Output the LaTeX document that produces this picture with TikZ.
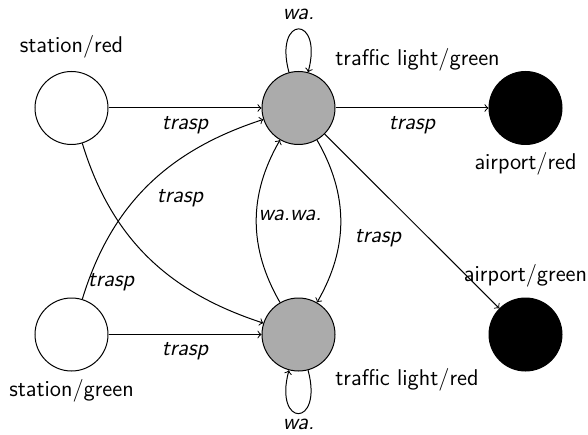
\documentclass[tikz,border=0pt]{standalone}
\begin{document}
\begin{tikzpicture}[x=0.5pt,y=0.5pt,
  font=\sffamily\fontsize{11.4}{13}\selectfont,
  state/.style={circle,draw,line width=0.5pt,minimum size=36.5pt,inner sep=0pt},
  tlstate/.style={state,fill=black!33},
  apstate/.style={state,fill=black},
  edge/.style={->,line width=0.5pt},
  elab/.style={font=\sffamily\itshape\fontsize{11.4}{13}\selectfont,inner sep=1pt}]
\useasboundingbox (0,0) rectangle (588,434);
% states
\node[state]   (sr)  at (71.5,326)  {};
\node[tlstate] (tlg) at (298.5,326) {};
\node[apstate] (ar)  at (525.5,326) {};
\node[state]   (sg)  at (71.5,99.5) {};
\node[tlstate] (tlr) at (298.5,99.5) {};
\node[apstate] (ag)  at (525.5,99.5) {};
% state labels
\node (srl) at (71.5,387) {station/red};
\node[anchor=west,inner sep=0pt] (tlgl) at (335,374) {traffic light/green};
\node (arl) at (525.5,270) {airport/red};
\node (sgl) at (71.5,43) {station/green};
\node[anchor=west,inner sep=0pt] (tlrl) at (335,54) {traffic light/red};
\node (agl) at (525.5,158) {airport/green};
% edges
\draw[edge] (sr) -- (tlg);
\draw[edge] (sg) -- (tlr);
\draw[edge] (tlg) -- (ar);
\draw[edge] (tlg) -- (ag);
\draw[edge] (sr) to[out=-73,in=162] (tlr);
\draw[edge] (sg) to[out=73,in=198] (tlg);
\draw[edge] (tlr) to[bend left=30] (tlg);
\draw[edge] (tlg) to[bend left=30] (tlr);
\draw[edge] (tlg) to[loop above] (tlg);
\draw[edge] (tlr) to[loop below] (tlr);
% edge labels
\node[elab] (l1) at (185,309) {trasp};
\node[elab] (l2) at (185,83) {trasp};
\node[elab] (l3) at (412,309) {trasp};
\node[elab] (l4) at (180,236) {trasp};
\node[elab] (l5) at (111,152) {trasp};
\node[elab] (l6) at (378,196) {trasp};
\node[elab] (l7) at (290,219) {wa.wa.};
\node[elab] (l8) at (298.5,420) {wa.};
\node[elab] (l9) at (298.5,10) {wa.};
\end{tikzpicture}
\end{document}
